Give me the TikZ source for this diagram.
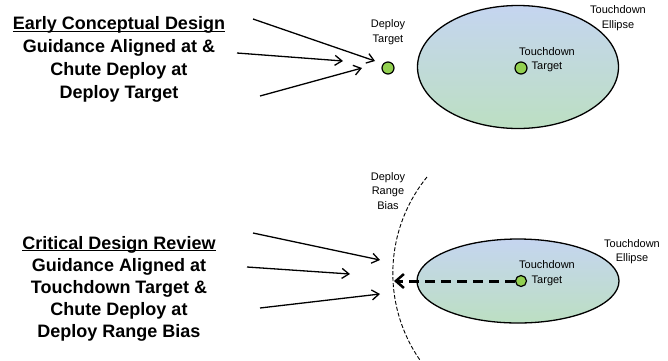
\documentclass[tikz,border=0pt]{standalone}
\usepackage{fontspec}
\setmainfont{Liberation Sans}
\usetikzlibrary{shapes.geometric,arrows.meta}
\definecolor{dotgreen}{HTML}{92D050}
\definecolor{elltop}{HTML}{C5D5F0}
\definecolor{ellbot}{HTML}{BCDFC2}
\newcommand\titleul[1]{\underline{\smash{#1}}}
\tikzset{
  titleblock/.style={align=center,inner sep=0pt,font=\bfseries\fontsize{18}{23}\selectfont},
  smalllabel/.style={align=center,inner sep=0pt,font=\fontsize{11}{14.5}\selectfont},
  tdellipse/.style={ellipse,draw=black,line width=1.3pt,top color=elltop,bottom color=ellbot,inner sep=0pt},
  gdot/.style={circle,draw=black,line width=1.2pt,fill=dotgreen,inner sep=0pt,minimum size=#1},
  inarrow/.style={line width=1.3pt,-{Straight Barb[length=7pt,width=10pt,line width=1.3pt]}},
}
\begin{document}
\begin{tikzpicture}[x=1pt,y=-1pt]
\useasboundingbox (0,0) rectangle (668,360);
% ---------- top ----------
\node[titleblock] (t1) at (119,66) {\titleul{Early Conceptual Design}\\Guidance Aligned at \&\\Chute Deploy at\\Deploy Target};
\node[tdellipse,minimum width=201pt,minimum height=123pt] (e1) at (518,67) {};
\node[gdot=12pt] (dt1) at (388,68) {};
\node[gdot=12pt] (tt1) at (521,68) {};
\node[smalllabel] (ldt1) at (388,32) {Deploy\\Target};
\node[smalllabel] (ltt1) at (547,59.5) {Touchdown\\Target};
\node[smalllabel] (le1) at (618,18) {Touchdown\\Ellipse};
\coordinate (a1s) at (253,19); \coordinate (a1e) at (375,61);
\coordinate (a2s) at (237,53); \coordinate (a2e) at (343,61);
\coordinate (a3s) at (260,96); \coordinate (a3e) at (362,68);
\draw[inarrow] (a1s) -- (a1e);
\draw[inarrow] (a2s) -- (a2e);
\draw[inarrow] (a3s) -- (a3e);
% ---------- bottom ----------
\node[titleblock,font=\bfseries\fontsize{18}{22}\selectfont] (t2) at (119,295) {\titleul{Critical Design Review}\\Guidance Aligned at\\Touchdown Target \&\\Chute Deploy at\\Deploy Range Bias};
\node[tdellipse,minimum width=202pt,minimum height=84pt] (e2) at (518,281) {};
\node[gdot=11pt] (tt2) at (521,281) {};
\node[smalllabel] (ltt2) at (547,273) {Touchdown\\Target};
\node[smalllabel] (le2) at (632,251.5) {Touchdown\\Ellipse};
\node[smalllabel] (lb2) at (388,191) {Deploy\\Range\\Bias};
\draw[line width=0.9pt,dash pattern=on 4pt off 2pt] (427,177) arc[start angle=140.9,end angle=214.7,radius=152.6pt];
\coordinate (b1s) at (253,233); \coordinate (b1e) at (380,260);
\coordinate (b2s) at (247,267); \coordinate (b2e) at (350,274);
\coordinate (b3s) at (260,308); \coordinate (b3e) at (380,294);
\coordinate (bias) at (394,281);
\draw[inarrow] (b1s) -- (b1e);
\draw[inarrow] (b2s) -- (b2e);
\draw[inarrow] (b3s) -- (b3e);
\draw[line width=3pt,dash pattern=on 10pt off 6pt,-{Straight Barb[length=8pt,width=14pt,line width=2.5pt]}] (tt2.west) -- (bias);
\end{tikzpicture}
\end{document}
